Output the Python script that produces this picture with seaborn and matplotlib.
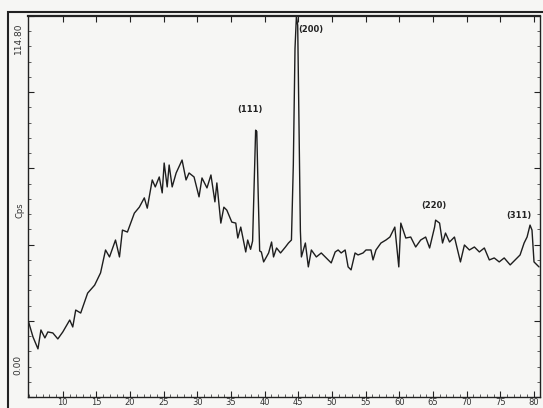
import matplotlib
matplotlib.use("Agg")
import matplotlib.pyplot as plt
from matplotlib.patches import Rectangle
from matplotlib.ticker import MultipleLocator
import seaborn as sns
import pandas as pd

two_theta = [4.83, 5.57, 6.31, 6.75, 7.34, 7.78, 8.52, 9.26, 10.00, 11.03, 11.48, 11.92, 12.66,
             13.69, 14.73, 15.61, 16.35, 16.94, 17.83, 18.42, 18.86, 19.60, 20.63, 21.37, 22.11,
             22.55, 23.29, 23.74, 24.33, 24.77, 25.06, 25.51, 25.80, 26.25, 26.84, 27.72, 28.31,
             28.76, 29.50, 30.24, 30.68, 31.42, 32.01, 32.60, 32.89, 33.48, 33.93, 34.37, 35.11,
             35.70, 36.00, 36.44, 37.18, 37.47, 37.90, 38.20, 38.45, 38.65, 38.82, 39.02, 39.25,
             39.50, 39.84, 40.58, 41.02, 41.31, 41.76, 42.35, 43.08, 43.53, 43.97, 44.25, 44.50,
             44.71, 44.90, 45.10, 45.30, 45.45, 46.04, 46.48, 46.93, 47.67, 48.40, 49.14, 49.88,
             50.47, 50.91, 51.36, 51.95, 52.39, 52.83, 53.42, 53.87, 54.61, 55.05, 55.79, 56.09,
             56.53, 57.27, 58.01, 58.60, 59.33, 59.92, 60.22, 60.96, 61.69, 62.43, 63.17, 63.91,
             64.50, 65.24, 65.39, 65.98, 66.42, 66.86, 67.46, 68.19, 69.08, 69.67, 70.41, 71.15,
             71.89, 72.63, 73.37, 74.10, 74.84, 75.58, 76.47, 77.21, 77.94, 78.54, 78.98, 79.42,
             79.71, 80.01, 80.75]
intensity = [23.2, 18.1, 14.5, 20.2, 17.8, 19.6, 19.3, 17.5, 19.6, 23.2, 21.1, 26.2, 25.3,
             31.3, 33.7, 37.4, 44.3, 42.2, 47.3, 42.2, 50.3, 49.7, 55.4, 57.2, 60.0,
             56.9, 65.4, 63.3, 66.3, 61.5, 70.5, 63.3, 69.9, 63.3, 67.5, 71.4, 65.4,
             67.5, 66.3, 60.3, 66.0, 63.0, 66.9, 58.8, 64.5, 52.4, 57.2, 56.3, 52.7,
             52.4, 47.9, 51.2, 43.7, 47.3, 44.5, 47.0, 65.0, 80.4, 80.0, 62.0, 44.0,
             43.7, 40.7, 43.4, 46.7, 42.2, 44.9, 43.4, 45.2, 46.4, 47.3, 70.0, 105.0,
             114.8, 112.0, 80.0, 50.0, 42.2, 46.4, 39.2, 44.3, 42.2, 43.4, 41.9, 40.4,
             43.7, 44.3, 43.4, 44.3, 39.2, 38.3, 43.4, 42.8, 43.4, 44.3, 44.3, 41.3,
             44.3, 46.4, 47.3, 48.2, 51.2, 39.2, 52.4, 47.9, 48.2, 45.2, 47.3, 48.2,
             44.9, 51.2, 53.3, 52.4, 46.4, 49.4, 46.7, 48.2, 40.7, 45.8, 44.3, 45.2,
             43.7, 44.9, 41.3, 41.9, 40.7, 41.9, 39.8, 41.3, 42.8, 46.4, 48.2, 51.8,
             50.3, 40.7, 39.2]

peak_labels = ["(111)", "(200)", "(220)", "(311)"]
peak_label_x = [37.8, 46.9, 65.2, 77.8]
peak_label_y = [86.5, 110.6, 57.8, 54.8]

x_ticks = [10, 15, 20, 25, 30, 35, 40, 45, 50, 55, 60, 65, 70, 75, 80]
y_max = 114.8

df = pd.DataFrame({"two_theta": two_theta, "intensity": intensity})

sns.set_style("ticks")
plt.rcParams["font.family"] = ["DejaVu Sans"]

fig = plt.figure(figsize=(5.43, 4.08), dpi=100)
fig.patch.set_facecolor("#f6f6f4")
ax = fig.add_axes([28 / 543, 11 / 408, (540 - 28) / 543, (397 - 16) / 408])
ax.set_facecolor("#f6f6f4")

sns.lineplot(data=df, x="two_theta", y="intensity", sort=False, color="#1e1e1e",
             linewidth=1.0, ax=ax)

ax.set_xlim(4.83, 80.9)
ax.set_ylim(0, y_max)
ax.set_xticks(x_ticks)
ax.set_xticklabels([str(t) for t in x_ticks], fontsize=6, color="#333333")
ax.xaxis.set_minor_locator(MultipleLocator(1))
ax.set_yticks([y_max * i / 5 for i in range(6)])
ax.set_yticklabels([])
ax.yaxis.set_minor_locator(MultipleLocator(y_max / 25))
ax.tick_params(axis="both", which="major", direction="in", length=4, width=0.8,
               top=True, right=True, color="#222222")
ax.tick_params(axis="both", which="minor", direction="in", length=2, width=0.6,
               top=False, right=True, color="#444444")
ax.tick_params(axis="x", which="major", pad=1)
ax.set_xlabel("")
ax.set_ylabel("")
for s in ax.spines.values():
    s.set_color("#222222")
    s.set_linewidth(1.0)
ax.spines["top"].set_linewidth(1.6)

for lab, lx, ly in zip(peak_labels, peak_label_x, peak_label_y):
    ax.text(lx, ly, lab, fontsize=6, fontweight="bold", ha="center", va="center",
            color="#222222")

fig.text(18 / 543, 1 - 38 / 408, "114.80", rotation=90, fontsize=6.5,
         ha="center", va="center", color="#333333")
fig.text(18 / 543, 1 - 365 / 408, "0.00", rotation=90, fontsize=6.5,
         ha="center", va="center", color="#333333")
fig.text(20 / 543, 1 - 210 / 408, "Cps", rotation=90, fontsize=6,
         ha="center", va="center", color="#333333")

fig.patches.append(Rectangle((8 / 543, -0.05), 1.2, 1 - 12 / 408 + 0.05,
                             transform=fig.transFigure, fill=False,
                             edgecolor="#222222", linewidth=1.5))

fig.savefig("out.png", dpi=100, facecolor=fig.get_facecolor())
